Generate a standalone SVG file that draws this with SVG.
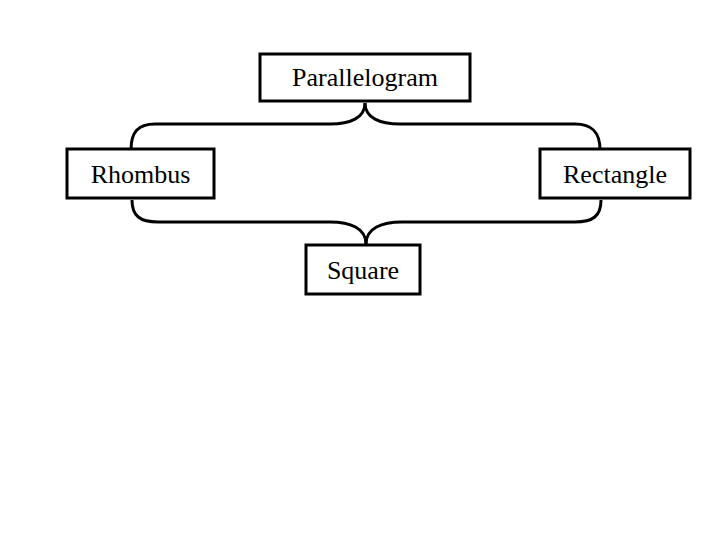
<svg xmlns="http://www.w3.org/2000/svg" width="720" height="540" viewBox="0 0 720 540">
<style>
.box{fill:#fff;stroke:#000;stroke-width:3}
.t{font-family:"Liberation Serif","Times New Roman",serif;font-size:26px;fill:#000;text-anchor:middle}
.c{fill:none;stroke:#000;stroke-width:3}
</style>
<rect width="720" height="540" fill="#fff"/>
<g id="connectors">
<path class="c" d="M365,103 C365,118 350,124 330,124 L155,124 C138,124 131,132 131,150"/>
<path class="c" d="M365,103 C365,118 380,124 400,124 L575,124 C592,124 600,132 600,150"/>
<path class="c" d="M132,200 C132,216 140,222 158,222 L330,222 C350,222 366,228 366,244"/>
<path class="c" d="M601,200 C601,216 593,222 575,222 L402,222 C382,222 366,228 366,244"/>
</g>
<g id="parallelogram"><rect class="box" x="260" y="54" width="210" height="47"/><text class="t" x="365" y="86">Parallelogram</text></g>
<g id="rhombus"><rect class="box" x="67" y="149" width="147" height="49"/><text class="t" x="140.5" y="183">Rhombus</text></g>
<g id="rectangle"><rect class="box" x="540" y="149" width="150" height="49"/><text class="t" x="615" y="183">Rectangle</text></g>
<g id="square"><rect class="box" x="306" y="245" width="114" height="49"/><text class="t" x="363" y="279">Square</text></g>
</svg>
